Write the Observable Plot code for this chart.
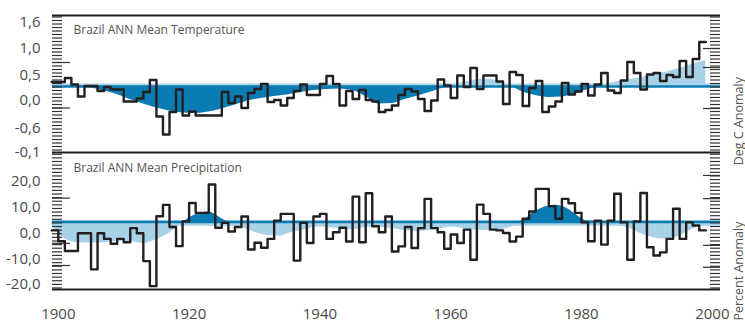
<!DOCTYPE html>
<html><head><meta charset="utf-8">
<script src="https://cdn.jsdelivr.net/npm/d3@7"></script>
<script src="https://cdn.jsdelivr.net/npm/@observablehq/plot@0.6"></script>
<style>
html,body{margin:0;padding:0;background:#fff;}
#chart{position:relative;width:745px;height:323px;}
#top,#bottom{position:absolute;left:0;}
#top{top:0;z-index:2;}
#bottom{top:145px;z-index:1;}
</style></head>
<body><div id="chart"><div id="top"></div><div id="bottom"></div></div>
<script>
// ---------- data ----------
const startYear = 1899;
const tempAnomaly = [
  0.37, 0.37, 0.45, 0.32, 0.08, 0.29, 0.29, 0.19, 0.27, 0.22,
  0.22, -0.02, -0.02, 0.04, 0.17, 0.41, -0.32, -0.68, -0.23, 0.22,
  -0.30, -0.22, -0.30, -0.30, -0.30, -0.30, 0.17, -0.05, 0.08, -0.15,
  0.15, 0.23, 0.33, -0.03, 0.01, -0.10, 0.05, 0.19, 0.32, 0.11,
  0.11, 0.33, 0.49, 0.33, -0.10, 0.19, 0.03, 0.21, 0.01, -0.02,
  -0.23, -0.19, -0.10, 0.11, 0.23, 0.18, 0.03, -0.21, 0.00, 0.42,
  0.30, 0.05, 0.50, 0.27, 0.65, 0.23, 0.50, 0.50, 0.38, -0.07,
  0.57, 0.51, -0.11, 0.25, 0.39, -0.23, -0.12, -0.02, 0.35, 0.12,
  0.18, 0.33, 0.10, 0.32, 0.55, 0.20, 0.15, 0.40, 0.77, 0.55,
  0.22, 0.52, 0.55, 0.39, 0.51, 0.47, 0.79, 0.47, 0.83, 1.17
];
const precipAnomaly = [
  1.0, -3.2, -7.0, -7.0, -0.1, -0.1, -14.1, -0.1, -2.3, -4.2,
  -2.3, -3.6, 1.9, -0.1, -10.9, -20.6, 6.5, 10.9, 2.3, -5.1,
  4.5, 11.6, 7.8, 7.8, 18.8, 2.0, 3.9, 0.6, 2.3, 6.4,
  -6.4, -3.8, -5.7, -2.3, 4.8, 7.4, 7.4, -10.7, 3.9, -3.9,
  6.4, 7.4, -2.3, 0.3, 2.0, -3.3, 14.1, -3.6, 15.4, 2.6,
  0.3, 6.4, -7.2, -5.2, 2.3, -5.8, 1.9, 13.2, 1.9, 0.3,
  -6.1, -0.6, -3.9, 1.3, -10.4, 11.0, 7.4, 1.3, 1.0, 0.0,
  -3.3, -1.4, 5.5, 8.3, 17.1, 17.1, 10.4, 5.5, 13.2, 11.5,
  7.8, 4.1, -3.2, 4.8, -4.5, 4.8, 15.2, 4.1, -10.4, 4.5,
  15.5, -5.5, -8.7, -7.5, -2.3, 9.4, -2.3, 4.1, 2.9, 1.0
];
const tempSmoothYears = [1899,1902,1905,1907,1909,1911,1913,1915,1917,1919,1921,1923,1925,1927,1929,1931,1933,1935,1937,1939,1941,1943,1945,1947,1949,1951,1953,1955,1957,1959,1961,1963,1965,1967,1969,1971,1973,1975,1977,1979,1981,1983,1985,1987,1989,1991,1993,1995,1997,1999];
const tempSmooth = [0.30,0.29,0.25,0.19,0.12,0.02,-0.07,-0.15,-0.21,-0.25,-0.26,-0.23,-0.17,-0.09,-0.01,0.04,0.08,0.11,0.16,0.20,0.22,0.23,0.20,0.08,-0.07,-0.06,0.02,0.09,0.17,0.25,0.33,0.39,0.43,0.40,0.28,0.17,0.10,0.06,0.07,0.13,0.22,0.30,0.36,0.41,0.45,0.51,0.57,0.64,0.73,0.80];
const precipSmoothYears = [1899,1901,1903,1906,1909,1911,1913,1915,1917,1919,1920,1922,1923,1924,1925,1926,1928,1930,1932,1934,1935,1937,1940,1943,1945,1948,1950,1953,1955,1958,1960,1963,1966,1968,1970,1971,1973,1975,1976,1978,1979,1981,1983,1985,1987,1989,1991,1993,1995,1997,1999];
const precipSmooth = [3.0,-2.3,-3.8,-3.9,-3.3,-3.3,-4.1,-2.6,0.0,3.6,5.8,7.8,8.1,7.2,5.5,4.4,2.3,0.3,-1.0,-1.3,-0.3,0.9,2.3,1.6,1.3,2.3,2.0,1.0,0.6,1.4,2.3,1.3,1.0,1.4,3.0,4.8,8.5,10.5,10.7,9.2,7.4,4.6,3.4,3.0,2.1,-0.2,-1.8,-2.3,-1.2,1.5,3.3];
const tempBaseline = 0.28;
const tempBand = 0.31;
const precipBaseline = 4.3;
const precipBand = 3.4;
const tempTickValues = [1.56, 1.04, 0.5, 0, -0.56, -1.04];
const tempTickLabels = ["1,6", "1,0", "0,5", "0,0", "-0,6", "-0,1"];
const precipTickValues = [20, 10, 0, -10, -20];
const precipTickLabels = ["20,0", "10,0", "0,0", "-10,0", "-20,0"];
const xTickYears = [1900, 1920, 1940, 1960, 1980, 2000];
const tempTitle = "Brazil ANN Mean Temperature";
const precipTitle = "Brazil ANN Mean Precipitation";
const tempUnit = "Deg C Anomaly";
const precipUnit = "Percent Anomaly";
const tempLongLeft = [0.76, -0.15];
const tempLongRight = [1.04, 0.66, -0.16];
const precipLongLeft = [13.5, -4.0, -12.6];
const precipLongRight = [22.3, 13.3, -4.8, -13.3];

// ---------- setup ----------
const xDomain = [1899.11, 2001.25];
const tempDomain = [-1.04, 1.7];
const precipDomain = [-21.9, 30.8];
const W = 745, ML = 52, MR = 25, innerW = W - ML - MR;
const dark = "#0a7cb4", light = "#a8d2e8", ink = "#231f20", textCol = "#4a4a4a";
const font = "'Open Sans', 'DejaVu Sans', sans-serif";

function stepRows(values) {
  const rows = values.map((v, i) => ({year: startYear + i, value: v}));
  rows.push({year: startYear + values.length, value: values[values.length - 1]});
  return rows;
}
function smoothRows(years, values) { return years.map((y, i) => ({year: y, value: values[i]})); }

function tickMarks(minor, longL, longR) {
  return [
    Plot.tickY(minor, {y: d => d, insetRight: innerW - 10, stroke: "#333", strokeWidth: 1.2}),
    Plot.tickY(longL, {y: d => d, insetRight: innerW - 18, stroke: "#333", strokeWidth: 1.2}),
    Plot.tickY(minor, {y: d => d, insetLeft: innerW - 10, stroke: "#333", strokeWidth: 1.2}),
    Plot.tickY(longR, {y: d => d, insetLeft: innerW - 17, stroke: "#333", strokeWidth: 1.2})
  ];
}

function panel({values, sYears, sValues, base, band, aboveFill, belowFill, domain, tickValues, tickLabels, minor, longL, longR, title, unit, unitDy, height, marginTop, marginBottom, bottomAxis, drawTopRule}) {
  const sm = smoothRows(sYears, sValues);
  const marks = [
    Plot.areaY(sm, {x: "year", y1: () => base, y2: d => Math.max(d.value, base), fill: aboveFill, curve: "monotone-x"}),
    Plot.areaY(sm, {x: "year", y1: () => base, y2: d => Math.min(d.value, base), fill: belowFill, curve: "monotone-x"}),
    Plot.ruleY([band], {stroke: light, strokeWidth: 3}),
    Plot.ruleY([base], {stroke: dark, strokeWidth: 2.6}),
    ...tickMarks(minor, longL, longR),
    Plot.line(stepRows(values), {x: "year", y: "value", curve: "step-after", stroke: ink, strokeWidth: 2.4}),
    Plot.ruleY([domain[0]], {stroke: ink, strokeWidth: 2.2}),
    Plot.axisY({anchor: "left", ticks: tickValues, tickSize: 0, tickPadding: 12, label: null,
      tickFormat: d => tickLabels[tickValues.indexOf(d)], fontSize: 15, fill: textCol}),
    Plot.text([title], {frameAnchor: "top-left", dx: 21, dy: 15, textAnchor: "start", lineAnchor: "middle", fontSize: 12, fill: "#555"}),
    Plot.text([unit], {frameAnchor: "right", rotate: -90, dx: 18, dy: unitDy, fontSize: 12.5, fill: "#555"})
  ];
  if (drawTopRule) marks.push(Plot.ruleY([domain[1]], {stroke: ink, strokeWidth: 2.2}));
  if (bottomAxis) marks.push(Plot.axisX({ticks: xTickYears, tickSize: 0, tickPadding: 19, tickFormat: d3.format("d"), fontSize: 15, fill: textCol, label: null}));
  return Plot.plot({
    width: W, height, marginLeft: ML, marginRight: MR, marginTop, marginBottom,
    x: {domain: xDomain, axis: bottomAxis ? undefined : null},
    y: {domain},
    style: {background: "transparent", overflow: "visible", fontFamily: font},
    marks
  });
}

const topChart = panel({
  values: tempAnomaly, sYears: tempSmoothYears, sValues: tempSmooth, base: tempBaseline, band: tempBand,
  aboveFill: light, belowFill: dark,
  domain: tempDomain, tickValues: tempTickValues, tickLabels: tempTickLabels,
  minor: d3.range(tempDomain[0] + 0.05, tempDomain[1], 0.07), longL: tempLongLeft, longR: tempLongRight,
  title: tempTitle, unit: tempUnit, unitDy: -7, height: 170, marginTop: 15, marginBottom: 18,
  bottomAxis: false, drawTopRule: true
});
const bottomChart = panel({
  values: precipAnomaly, sYears: precipSmoothYears, sValues: precipSmooth, base: precipBaseline, band: precipBand,
  aboveFill: dark, belowFill: light,
  domain: precipDomain, tickValues: precipTickValues, tickLabels: precipTickLabels,
  minor: d3.range(precipDomain[0] + 0.6, precipDomain[1], 1.4), longL: precipLongLeft, longR: precipLongRight,
  title: precipTitle, unit: precipUnit, unitDy: 0, height: 178, marginTop: 8, marginBottom: 34,
  bottomAxis: true, drawTopRule: false
});
document.getElementById("top").appendChild(topChart);
document.getElementById("bottom").appendChild(bottomChart);
</script>
</body></html>
